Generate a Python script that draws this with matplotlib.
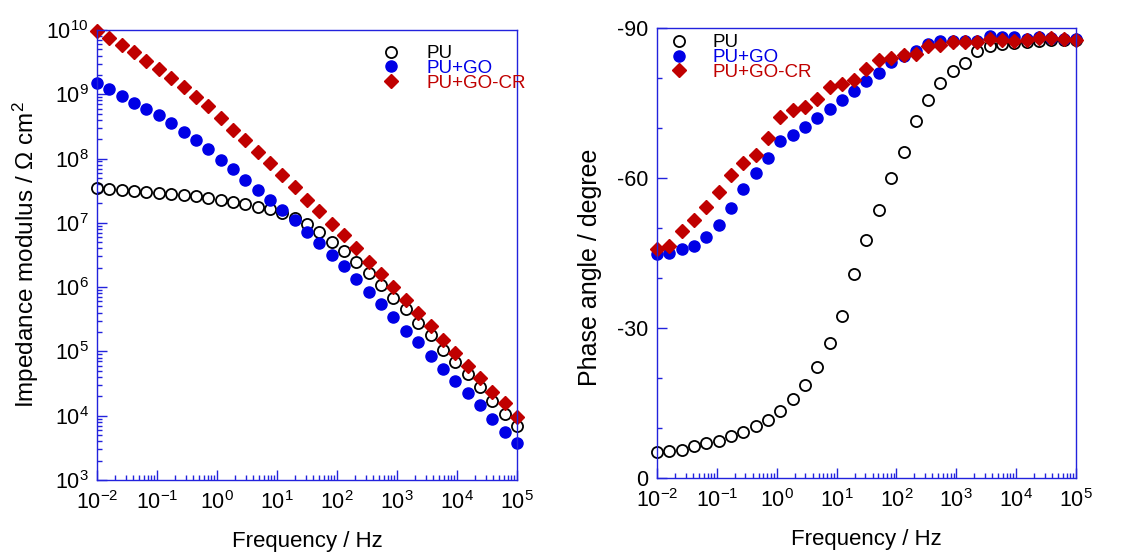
import matplotlib
matplotlib.use("Agg")
import matplotlib.pyplot as plt
from matplotlib.ticker import MultipleLocator, LogLocator, NullFormatter

plt.rcParams['font.family'] = ['Liberation Sans', 'DejaVu Sans']
plt.rcParams['mathtext.fontset'] = 'custom'
plt.rcParams['mathtext.rm'] = 'Liberation Sans'
plt.rcParams['mathtext.it'] = 'Liberation Sans'
plt.rcParams['mathtext.default'] = 'regular'
plt.rcParams['axes.unicode_minus'] = False

# frequency sweep, Hz
freq = [0.01, 0.01607, 0.02582, 0.04149, 0.06668, 0.1069, 0.1718, 0.2762,
        0.4438, 0.7132, 1.145, 1.840, 2.957, 4.75, 7.63, 12.25, 19.68, 31.6,
        50.8, 81.6, 131.2, 210.8, 338.4, 543.4, 873.0, 1403, 2254, 3622,
        5821, 9352, 15010, 24110, 38730, 62230, 100000]

# |Z|, ohm cm2
pu_mod = [3.47e7, 3.39e7, 3.24e7, 3.16e7, 3.02e7, 2.95e7, 2.82e7, 2.69e7,
          2.57e7, 2.4e7, 2.29e7, 2.09e7, 1.95e7, 1.78e7, 1.62e7, 1.41e7,
          1.2e7, 9.5e6, 7.1e6, 5.1e6, 3.6e6, 2.5e6, 1.66e6, 1.07e6, 6.9e5,
          4.5e5, 2.8e5, 1.78e5, 1.07e5, 6.9e4, 4.5e4, 2.75e4, 1.7e4, 1.07e4,
          6.9e3]
go_mod = [1.5e9, 1.2e9, 9.3e8, 7.4e8, 6.0e8, 4.7e8, 3.55e8, 2.6e8, 1.95e8,
          1.4e8, 9.5e7, 6.8e7, 4.7e7, 3.2e7, 2.3e7, 1.6e7, 1.12e7, 7.1e6,
          4.8e6, 3.2e6, 2.1e6, 1.32e6, 8.3e5, 5.4e5, 3.4e5, 2.1e5, 1.38e5,
          8.5e4, 5.4e4, 3.5e4, 2.25e4, 1.48e4, 8.9e3, 5.6e3, 3.7e3]
cr_mod = [9.5e9, 7.6e9, 5.9e9, 4.5e9, 3.3e9, 2.5e9, 1.8e9, 1.3e9, 9.1e8,
          6.5e8, 4.3e8, 2.75e8, 1.95e8, 1.26e8, 8.5e7, 5.6e7, 3.6e7, 2.3e7,
          1.55e7, 9.5e6, 6.5e6, 4.0e6, 2.5e6, 1.6e6, 1.0e6, 6.3e5, 3.9e5,
          2.45e5, 1.5e5, 9.5e4, 6.0e4, 3.8e4, 2.35e4, 1.55e4, 9.5e3]

# phase angle, degree
pu_phase = [-5.3, -5.5, -5.7, -6.5, -7.0, -7.5, -8.4, -9.3, -10.4, -11.7,
            -13.4, -15.8, -18.7, -22.2, -27.0, -32.4, -40.8, -47.7, -53.7,
            -60.1, -65.2, -71.5, -75.7, -79.0, -81.4, -83.1, -85.4, -86.4,
            -86.9, -87.0, -87.2, -87.5, -87.7, -87.7, -87.7]
go_phase = [-44.9, -45.1, -45.8, -46.4, -48.2, -50.7, -54.1, -57.9, -61.0,
            -64.0, -67.4, -68.6, -70.2, -72.0, -73.8, -75.7, -77.5, -79.4,
            -81.1, -83.2, -84.5, -85.5, -86.9, -87.4, -87.5, -87.5, -87.5,
            -88.5, -88.2, -88.2, -87.9, -88.2, -88.1, -87.9, -87.9]
cr_phase = [-45.9, -46.5, -49.4, -51.7, -54.3, -57.3, -60.7, -63.0, -64.7,
            -68.0, -72.3, -73.7, -74.2, -75.9, -78.3, -78.9, -79.7, -81.9,
            -83.7, -84.0, -84.7, -84.9, -86.4, -86.7, -87.2, -87.2, -87.2,
            -87.9, -87.7, -87.5, -87.7, -88.1, -88.0, -87.9, -87.7]

labels = ["PU", "PU+GO", "PU+GO-CR"]
AXIS_BLUE = "#2222dd"
GO_BLUE = "#0000e6"
CR_RED = "#c00000"


def style_axes(ax):
    for sp in ax.spines.values():
        sp.set_color(AXIS_BLUE)
        sp.set_linewidth(1.0)
    ax.tick_params(which='both', direction='in', top=False, right=False,
                   color=AXIS_BLUE, labelsize=15.5, width=1.0)
    ax.tick_params(which='major', length=7)
    ax.tick_params(axis='x', which='major', pad=8)
    ax.tick_params(axis='y', which='major', pad=6)
    ax.tick_params(which='minor', length=3.5)


def draw_series(ax, y_pu, y_go, y_cr):
    ax.plot(freq, y_pu, 'o', ms=8, mfc='none', mec='black', mew=1.3,
            clip_on=False, label=labels[0])
    ax.plot(freq, y_go, 'o', ms=8, mfc=GO_BLUE, mec=GO_BLUE,
            clip_on=False, label=labels[1])
    ax.plot(freq, y_cr, 'D', ms=7.5, mfc=CR_RED, mec=CR_RED,
            clip_on=False, label=labels[2])


fig = plt.figure(figsize=(11.31, 5.52), dpi=100)
ax1 = fig.add_axes([0.0858, 0.1304, 0.3713, 0.8153])
ax2 = fig.add_axes([0.5809, 0.134, 0.3705, 0.815])

# impedance modulus
draw_series(ax1, pu_mod, go_mod, cr_mod)
ax1.set_xscale('log')
ax1.set_yscale('log')
ax1.set_xlim(1e-2, 1e5)
ax1.set_ylim(1e3, 1e10)
ax1.yaxis.set_major_locator(LogLocator(base=10, numticks=20))
ax1.yaxis.set_minor_locator(LogLocator(base=10, subs=range(2, 10), numticks=20))
ax1.yaxis.set_minor_formatter(NullFormatter())
ax1.set_xlabel("Frequency / Hz", fontsize=16, labelpad=12)
ax1.set_ylabel(r"Impedance modulus / Ω cm$^2$", fontsize=17.5, labelpad=4)
style_axes(ax1)

# phase angle
draw_series(ax2, pu_phase, go_phase, cr_phase)
ax2.set_xscale('log')
ax2.set_xlim(1e-2, 1e5)
ax2.set_ylim(0, -90)
ax2.yaxis.set_major_locator(MultipleLocator(30))
ax2.yaxis.set_minor_locator(MultipleLocator(10))
ax2.set_xlabel("Frequency / Hz", fontsize=16, labelpad=12)
ax2.set_ylabel("Phase angle / degree", fontsize=18)
ax2.yaxis.set_label_coords(-0.131, 0.468)
style_axes(ax2)

for ax in (ax1, ax2):
    ax.xaxis.set_major_locator(LogLocator(base=10, numticks=20))
    ax.xaxis.set_minor_locator(LogLocator(base=10, subs=range(2, 10), numticks=20))
    ax.xaxis.set_minor_formatter(NullFormatter())

ax1.legend(loc='upper left', bbox_to_anchor=(0.668, 0.975), frameon=False,
           fontsize=13.5, labelcolor=['black', GO_BLUE, CR_RED],
           handlelength=1.0, handletextpad=1.4, labelspacing=-0.12,
           borderpad=0.2, borderaxespad=0)
ax2.legend(loc='upper left', bbox_to_anchor=(0.02, 0.995), frameon=False,
           fontsize=13.5, labelcolor=['black', GO_BLUE, CR_RED],
           handlelength=1.0, handletextpad=1.3, labelspacing=-0.12,
           borderpad=0.2, borderaxespad=0)

fig.savefig("out.png", dpi=100)
